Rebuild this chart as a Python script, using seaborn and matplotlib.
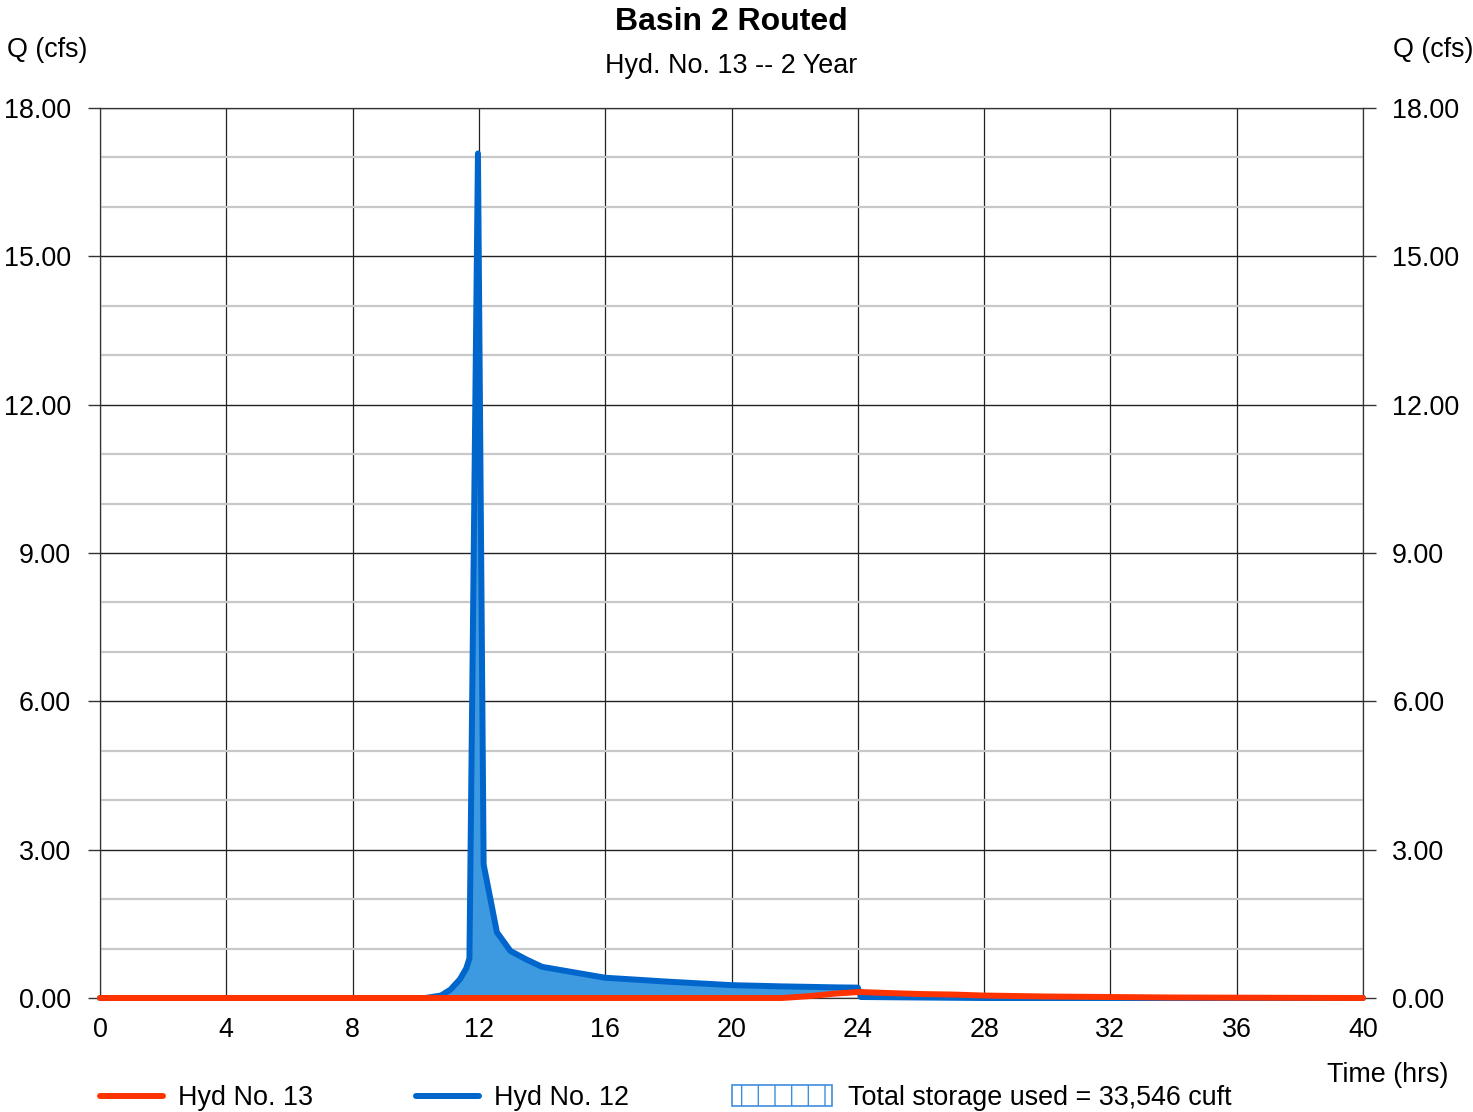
import numpy as np
import pandas as pd
import matplotlib
matplotlib.use("Agg")
import matplotlib.pyplot as plt
from matplotlib.lines import Line2D
from matplotlib.patches import Rectangle
from matplotlib.ticker import MultipleLocator, FormatStrFormatter
import seaborn as sns

# --- hydrograph data ---
time_hrs = [0, 10.3, 10.8, 11.1, 11.4, 11.6, 11.7, 11.97, 12.15, 12.57,
            13.0, 13.5, 14.0, 15.0, 16.0, 18.0, 20.0, 21.6, 22.5, 23.3,
            24.0, 24.1, 25.0, 26.0, 27.0, 28.0, 30.0, 32.0, 34.0, 40.0]
# inflow, Hyd No. 12
q_inflow = [0, 0, 0.05, 0.17, 0.38, 0.60, 0.80, 17.08, 2.70, 1.33,
            0.95, 0.78, 0.63, 0.52, 0.41, 0.33, 0.26, 0.235, 0.225, 0.215,
            0.21, 0.02, 0.015, 0.01, 0.005, 0, 0, 0, 0, 0]
# outflow, Hyd No. 13
q_outflow = [0, 0, 0, 0, 0, 0, 0, 0, 0, 0,
             0, 0, 0, 0, 0, 0, 0, 0, 0.04, 0.09,
             0.12, 0.12, 0.10, 0.08, 0.07, 0.05, 0.03, 0.02, 0.01, 0]

x_ticks = [0, 4, 8, 12, 16, 20, 24, 28, 32, 36, 40]
y_ticks = [0, 3, 6, 9, 12, 15, 18]

title = "Basin 2 Routed"
subtitle = "Hyd. No. 13 -- 2 Year"
storage_text = "Total storage used = 33,546 cuft"

RED = "#ff3300"
BLUE = "#0066cc"
FILL = "#3d9ae0"
FS = 19.4

df = pd.DataFrame({"t": time_hrs, "inflow": q_inflow, "outflow": q_outflow})

sns.set_theme(style="white")
plt.rcParams["font.family"] = ["Liberation Sans", "DejaVu Sans"]
plt.rcParams["text.color"] = "black"
plt.rcParams["hatch.linewidth"] = 1.0

W, H = 1473, 1112
fig = plt.figure(figsize=(W / 100, H / 100), dpi=100)
ax = fig.add_axes([100 / W, 1 - 998 / H, (1363 - 100) / W, (998 - 108) / H])

# storage area between inflow and outflow
ax.fill_between(df["t"], df["outflow"], df["inflow"],
                where=df["inflow"] >= df["outflow"], interpolate=True,
                color=FILL, linewidth=0, zorder=2)
sns.lineplot(data=df, x="t", y="inflow", ax=ax, color=BLUE, linewidth=4.3,
             sort=False, zorder=3, clip_on=False)
sns.lineplot(data=df, x="t", y="outflow", ax=ax, color=RED, linewidth=4.3,
             sort=False, zorder=4, clip_on=False)

ax.set_xlim(0, 40)
ax.set_ylim(0, 18)
ax.set_xticks(x_ticks)
ax.set_yticks(y_ticks)
ax.yaxis.set_minor_locator(MultipleLocator(1))
ax.yaxis.set_major_formatter(FormatStrFormatter("%.2f"))
ax.set_xlabel("")
ax.set_ylabel("")

ax.grid(which="minor", axis="y", color="#c8c8c8", linewidth=1.6, zorder=0)
ax.grid(which="major", axis="y", color="#222222", linewidth=1.0, zorder=1)
ax.grid(which="major", axis="x", color="#222222", linewidth=0.9, zorder=1)
ax.set_axisbelow(True)
for sp in ax.spines.values():
    sp.set_color("#333333")
    sp.set_linewidth(0.9)

ax.tick_params(axis="y", which="major", left=True, right=True,
               labelleft=True, labelright=True, length=9, width=1,
               color="#333333", direction="out", pad=12, labelsize=FS,
               labelcolor="black")
ax.tick_params(axis="y", which="minor", left=False, right=False)
ax.tick_params(axis="x", which="major", length=0, pad=14, labelsize=FS,
               labelcolor="black")

# titles and axis captions
fig.text(731 / W, 1 - 22 / H, title, ha="center", va="center",
         fontsize=23, fontweight="bold")
fig.text(731 / W, 1 - 66 / H, subtitle, ha="center", va="center", fontsize=FS)
fig.text(7 / W, 1 - 50 / H, "Q (cfs)", ha="left", va="center", fontsize=FS)
fig.text(1473 / W, 1 - 50 / H, "Q (cfs)", ha="right", va="center", fontsize=FS)
fig.text(1448 / W, 1 - 1075 / H, "Time (hrs)", ha="right", va="center", fontsize=FS)

# legend along the bottom
ly = 1 - 1096 / H
fig.add_artist(Line2D([100 / W, 163 / W], [ly, ly], color=RED, linewidth=4.3,
                      solid_capstyle="round", transform=fig.transFigure))
fig.text(178 / W, 1 - 1098 / H, "Hyd No. 13", ha="left", va="center", fontsize=FS)
fig.add_artist(Line2D([416 / W, 479 / W], [ly, ly], color=BLUE, linewidth=4.3,
                      solid_capstyle="round", transform=fig.transFigure))
fig.text(494 / W, 1 - 1098 / H, "Hyd No. 12", ha="left", va="center", fontsize=FS)
fig.add_artist(Rectangle((732 / W, 1 - 1106 / H), 100 / W, 21 / H,
                         facecolor="white", edgecolor="#3d8fdd", hatch="|",
                         linewidth=1.2, transform=fig.transFigure))
fig.text(848 / W, 1 - 1098 / H, storage_text, ha="left", va="center", fontsize=FS)

fig.savefig("out.png", dpi=100)
plt.close(fig)
